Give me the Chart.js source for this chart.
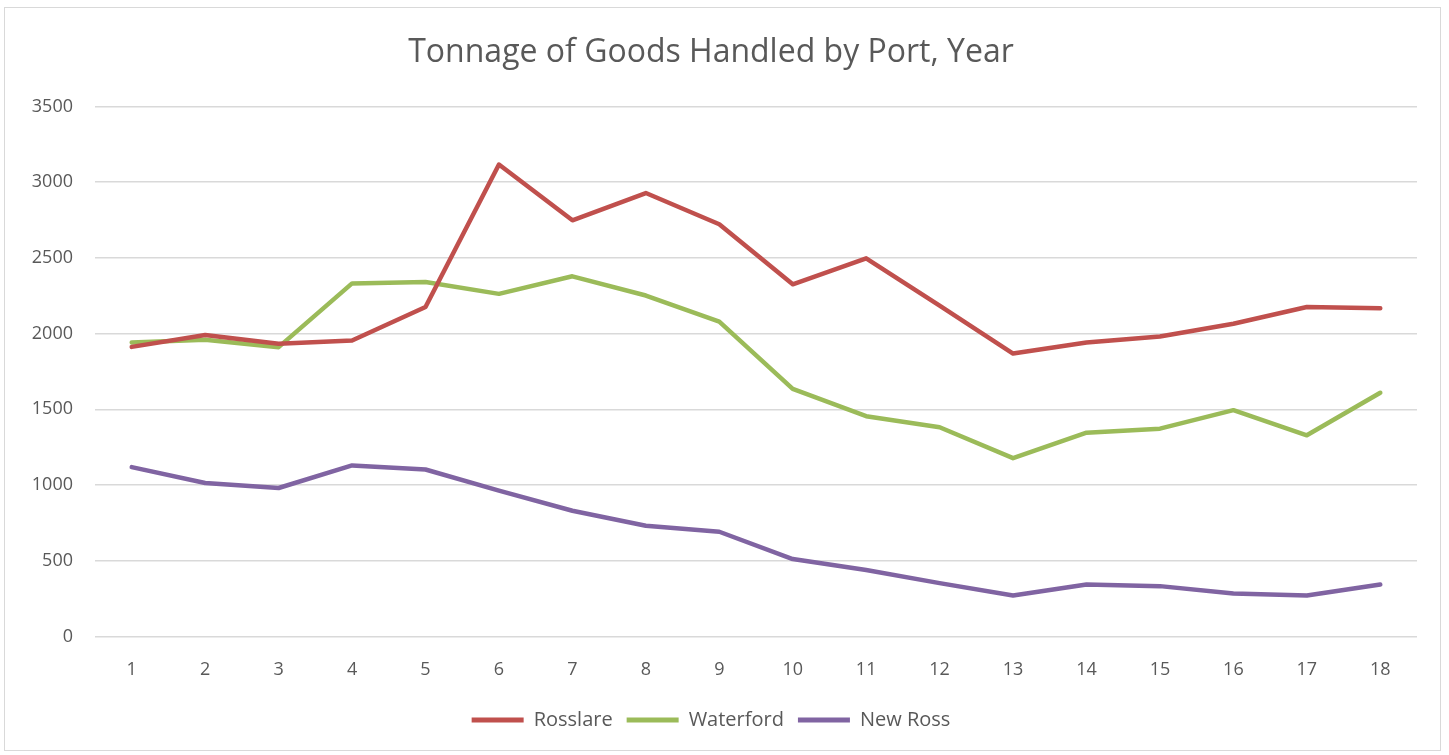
<!DOCTYPE html>
<html>
<head>
<meta charset="utf-8">
<script src="https://cdn.jsdelivr.net/npm/chart.js@4/dist/chart.umd.min.js"></script>
<style>
    body { margin: 0; background: #fff; }
    #wrap {
        position: absolute; left: 4px; top: 7px;
        width: 1437px; height: 744px;
        border: 1px solid #d9d9d9; box-sizing: border-box;
    }
</style>
</head>
<body>
<div id="wrap"><canvas id="portChart"></canvas></div>
<script>
const years = ['1', '2', '3', '4', '5', '6', '7', '8', '9', '10', '11', '12', '13', '14', '15', '16', '17', '18'];
const rosslare = [1912, 1990, 1932, 1954, 2175, 3116, 2748, 2928, 2722, 2325, 2497, 2185, 1868, 1941, 1981, 2065, 2175, 2167];
const waterford = [1941, 1959, 1910, 2331, 2341, 2262, 2378, 2251, 2079, 1634, 1454, 1381, 1177, 1345, 1372, 1494, 1328, 1609];
const newRoss = [1118, 1013, 980, 1129, 1102, 963, 830, 731, 691, 511, 438, 352, 270, 343, 332, 283, 270, 343];

const textColor = '#595959';
const fontFamily = "'Open Sans', 'Noto Sans', sans-serif";

const mkSet = (label, values, color) => ({
    label,
    data: values,
    borderColor: color,
    backgroundColor: color,
    borderWidth: 4.5,
    pointRadius: 0,
    tension: 0,
    borderCapStyle: 'round',
    borderJoinStyle: 'round',
});

const config = {
    type: 'line',
    data: {
        labels: years,
        datasets: [
            mkSet('Rosslare', rosslare, '#C0504D'),
            mkSet('Waterford', waterford, '#9BBB59'),
            mkSet('New Ross', newRoss, '#8064A2'),
        ],
    },
    options: {
        responsive: true,
        maintainAspectRatio: false,
        animation: false,
        layout: { padding: { left: 0, right: 23, bottom: 10 } },
        plugins: {
            title: {
                display: true,
                text: 'Tonnage of Goods Handled by Port, Year',
                color: textColor,
                font: { family: fontFamily, size: 32, weight: 'normal' },
                padding: { top: 26, bottom: 34 },
            },
            legend: {
                position: 'bottom',
                labels: {
                    color: textColor,
                    font: { family: fontFamily, size: 20 },
                    boxWidth: 52,
                    boxHeight: 5,
                    padding: 14,
                    generateLabels(chart) {
                        return chart.data.datasets.map((ds, i) => ({
                            text: ds.label,
                            fillStyle: ds.borderColor,
                            strokeStyle: ds.borderColor,
                            lineWidth: 0,
                            fontColor: textColor,
                            datasetIndex: i,
                        }));
                    },
                },
            },
            tooltip: { enabled: false },
        },
        scales: {
            x: {
                offset: true,
                grid: { display: false },
                border: { display: false },
                ticks: { color: textColor, font: { family: fontFamily, size: 18 }, padding: 15 },
            },
            y: {
                min: 0,
                max: 3500,
                afterFit(scale) { scale.width = 90; },
                grid: { color: '#d9d9d9', lineWidth: 1.5, drawTicks: false },
                border: { display: false },
                ticks: {
                    stepSize: 500,
                    color: textColor,
                    font: { family: fontFamily, size: 18 },
                    padding: 22,
                    callback: (v) => String(v),
                },
            },
        },
    },
};

const portChart = new Chart(document.getElementById('portChart'), config);
</script>
</body>
</html>
